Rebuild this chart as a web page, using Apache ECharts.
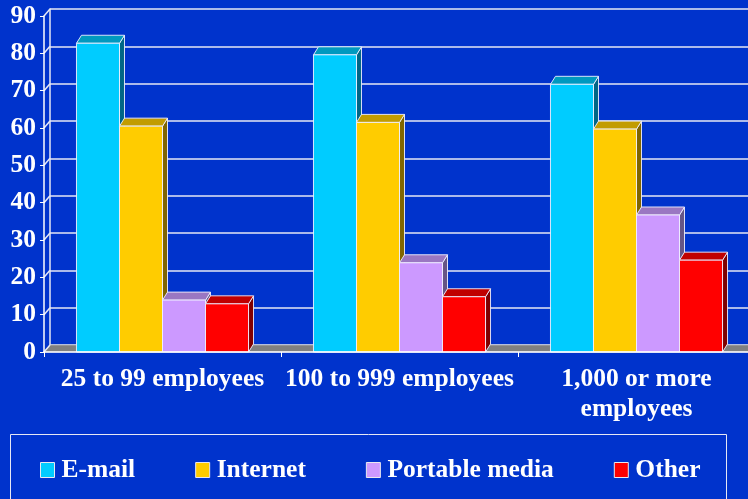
<!DOCTYPE html>
<html>
<head>
<meta charset="utf-8">
<style>
  html, body { margin: 0; padding: 0; background: #0033CC; overflow: hidden; }
  #chart { width: 760px; height: 499px; }
</style>
<script src="https://cdn.jsdelivr.net/npm/echarts@6/dist/echarts.min.js"></script>
</head>
<body>
<div id="chart"></div>
<script>
// Company size groups along the horizontal axis
const CATEGORIES = ['25 to 99 employees', '100 to 999 employees', '1,000 or more\nemployees'];

// Percent of companies per channel, one value per company size group
const EMAIL = [82.7, 79.6, 71.7];
const INTERNET = [60.5, 61.5, 59.7];
const PORTABLE_MEDIA = [13.9, 23.9, 36.7];
const OTHER = [12.9, 14.8, 24.6];

// Value axis ticks
const Y_TICKS = [0, 10, 20, 30, 40, 50, 60, 70, 80, 90];

const SERIES_NAMES = ['E-mail', 'Internet', 'Portable media', 'Other'];

// Face colours for the pseudo-3D columns: front, top, side
const PALETTE = [
  { front: '#00CCFF', top: '#0099BF', side: '#006686' },
  { front: '#FFCC00', top: '#C29C00', side: '#806600' },
  { front: '#CC99FF', top: '#9A77C2', side: '#665586' },
  { front: '#FF0000', top: '#C00000', side: '#800000' }
];

const FONT = 'Liberation Serif';
const EDGE = 'rgba(240,240,255,0.9)';
const BAR_FRAC = 0.1815;     // one column's share of a category band
const BAR_DX = 5, BAR_DY = 8;   // column depth offset
const WALL_DX = 6, WALL_DY = 7; // back wall offset

function toPairs(values) {
  return values.map((v, i) => [i, v]);
}

function columnRenderer(slot) {
  const c = PALETTE[slot];
  return function (params, api) {
    const cat = api.value(0);
    const val = api.value(1);
    const base = api.coord([cat, 0]);
    const top = api.coord([cat, val]);
    const band = api.size([1, 0])[0];
    const bw = band * BAR_FRAC;
    const x0 = base[0] - bw * 2 + bw * slot;
    const x1 = x0 + bw;
    const y0 = base[1];
    const y1 = top[1];
    return {
      type: 'group',
      children: [
        {
          type: 'polygon',
          shape: { points: [[x1, y0], [x1 + BAR_DX, y0 - BAR_DY], [x1 + BAR_DX, y1 - BAR_DY], [x1, y1]] },
          style: { fill: c.side, stroke: EDGE, lineWidth: 1 }
        },
        {
          type: 'polygon',
          shape: { points: [[x0, y1], [x0 + BAR_DX, y1 - BAR_DY], [x1 + BAR_DX, y1 - BAR_DY], [x1, y1]] },
          style: { fill: c.top, stroke: EDGE, lineWidth: 1 }
        },
        {
          type: 'rect',
          shape: { x: x0, y: y1, width: bw, height: y0 - y1 },
          style: { fill: c.front, stroke: EDGE, lineWidth: 1 }
        }
      ]
    };
  };
}

// Floor slab under the columns
function floorRenderer(params, api) {
  const cs = params.coordSys;
  const yb = cs.y + cs.height;
  return {
    type: 'polygon',
    shape: {
      points: [[cs.x, yb], [cs.x + cs.width, yb], [cs.x + cs.width + WALL_DX, yb - WALL_DY], [cs.x + WALL_DX, yb - WALL_DY]]
    },
    style: { fill: '#808080', stroke: 'rgba(200,200,200,0.6)', lineWidth: 1 }
  };
}

// Side wall lines joining the front ticks to the back wall gridlines
function sideWallRenderer(params, api) {
  const cs = params.coordSys;
  const y = api.coord([0, api.value(0)])[1];
  return {
    type: 'line',
    shape: { x1: cs.x, y1: y, x2: cs.x + WALL_DX, y2: y - WALL_DY },
    style: { stroke: '#E6E8F4', lineWidth: 1.5 }
  };
}

const labelStyle = { color: '#FFFFFF', fontFamily: FONT, fontWeight: 'bold', fontSize: 25.5 };

const chart = echarts.init(document.getElementById('chart'), null, { renderer: 'canvas' });

// The plot runs a little past the right edge of the visible page
const FRONT = { left: 44, right: 5, top: 16, bottom: 147 };
const BACK = {
  left: FRONT.left + WALL_DX, right: 0,
  top: FRONT.top - WALL_DY, bottom: FRONT.bottom + WALL_DY
};

const series = [
  {
    type: 'custom', name: 'floor', xAxisIndex: 0, yAxisIndex: 0,
    renderItem: floorRenderer, data: [[0, 0]], z: 2, silent: true
  },
  {
    type: 'custom', name: 'side wall', xAxisIndex: 0, yAxisIndex: 0,
    renderItem: sideWallRenderer, data: Y_TICKS.map(v => [v]),
    encode: { y: 0 }, z: 2, silent: true
  }
];
[EMAIL, INTERNET, PORTABLE_MEDIA, OTHER].forEach((vals, i) => {
  series.push({
    type: 'custom',
    name: SERIES_NAMES[i],
    xAxisIndex: 0, yAxisIndex: 0,
    renderItem: columnRenderer(i),
    encode: { x: 0, y: 1 },
    data: toPairs(vals),
    itemStyle: { color: PALETTE[i].front },
    z: 3
  });
});

chart.setOption({
  animation: false,
  backgroundColor: '#0033CC',
  grid: [
    Object.assign({ containLabel: false }, FRONT),
    Object.assign({ containLabel: false }, BACK)
  ],
  xAxis: [
    {
      type: 'category', gridIndex: 0, data: CATEGORIES,
      boundaryGap: true,
      axisLine: { show: true, lineStyle: { color: '#FFFFFF', width: 1.5 } },
      axisTick: { show: true, inside: false, length: 5, alignWithLabel: false, lineStyle: { color: '#FFFFFF', width: 1 } },
      axisLabel: Object.assign({ margin: 12, lineHeight: 30, interval: 0 }, labelStyle),
      splitLine: { show: false },
      z: 5
    },
    { type: 'value', gridIndex: 1, min: 0, max: 1, show: false }
  ],
  yAxis: [
    {
      type: 'value', gridIndex: 0, min: 0, max: 90, interval: 10,
      axisLine: { show: true, lineStyle: { color: '#FFFFFF', width: 1.5 } },
      axisTick: { show: true, inside: false, length: 4, lineStyle: { color: '#FFFFFF', width: 1 } },
      axisLabel: Object.assign({ margin: 8 }, labelStyle),
      splitLine: { show: false },
      z: 5
    },
    {
      type: 'value', gridIndex: 1, min: 0, max: 90, interval: 10,
      axisLine: { show: true, lineStyle: { color: '#E6E8F4', width: 1.5 } },
      axisTick: { show: false },
      axisLabel: { show: false },
      splitLine: { show: true, lineStyle: { color: '#E6E8F4', width: 1.5 } },
      z: 0
    }
  ],
  legend: {
    data: SERIES_NAMES.map((n, i) => ({
      name: n,
      icon: 'rect',
      itemStyle: { color: PALETTE[i].front, borderColor: '#E8E8F0', borderWidth: 1 }
    })),
    left: 40,
    top: 455,
    padding: 0,
    itemWidth: 14,
    itemHeight: 15,
    itemGap: 60,
    selectedMode: false,
    textStyle: Object.assign({ lineHeight: 30, padding: [0, 0, 0, 2] }, labelStyle)
  },
  graphic: [
    {
      type: 'rect',
      shape: { x: 10.5, y: 434.5, width: 716, height: 80 },
      style: { fill: 'none', stroke: '#E6E8F4', lineWidth: 1 },
      silent: true
    }
  ],
  series: series
});
</script>
</body>
</html>
